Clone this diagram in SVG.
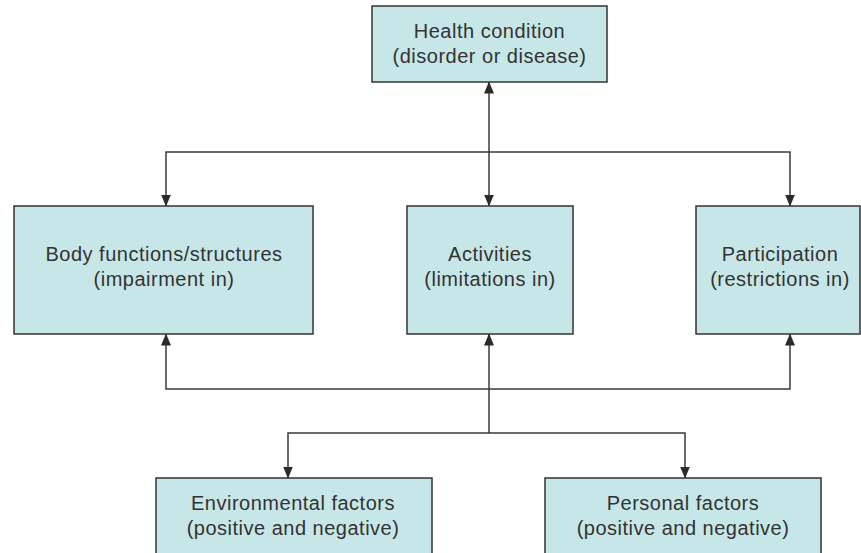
<svg xmlns="http://www.w3.org/2000/svg" width="861" height="553" viewBox="0 0 861 553">
<defs>
<marker id="ah" viewBox="0 0 12 10" refX="11.5" refY="5" markerWidth="12" markerHeight="10" markerUnits="userSpaceOnUse" orient="auto-start-reverse">
<path d="M0,0 L12,5 L0,10 z" fill="#2b2b2b"/>
</marker>
</defs>
<style>
.box{fill:#c7e6e8;stroke:#333;stroke-width:1.5}
.t{font-family:"Liberation Sans",Arial,sans-serif;font-size:20px;fill:#333;text-anchor:middle;letter-spacing:0.5px}
.c{fill:none;stroke:#3a3a3a;stroke-width:1.5}
</style>
<rect width="861" height="553" fill="#fff"/>
<g id="connectors">
<path class="c" d="M489,82 L489,206" marker-start="url(#ah)" marker-end="url(#ah)"/>
<path class="c" d="M166,206 L166,152 L790,152 L790,206" marker-start="url(#ah)" marker-end="url(#ah)"/>
<path class="c" d="M166,334 L166,389 L790,389 L790,334" marker-start="url(#ah)" marker-end="url(#ah)"/>
<path class="c" d="M489,433 L489,334" marker-end="url(#ah)"/>
<path class="c" d="M288,478 L288,433 L685,433 L685,478" marker-start="url(#ah)" marker-end="url(#ah)"/>
</g>
<g id="health">
<rect class="box" x="372" y="6" width="235" height="76"/>
<text class="t" x="489.5" y="38">Health condition</text>
<text class="t" x="489.5" y="63">(disorder or disease)</text>
</g>
<g id="body">
<rect class="box" x="14" y="206" width="299" height="128"/>
<text class="t" x="164" y="261">Body functions/structures</text>
<text class="t" x="164" y="286">(impairment in)</text>
</g>
<g id="activities">
<rect class="box" x="407" y="206" width="166" height="128"/>
<text class="t" x="490" y="261">Activities</text>
<text class="t" x="490" y="286">(limitations in)</text>
</g>
<g id="participation">
<rect class="box" x="696" y="206" width="164" height="128"/>
<text class="t" x="780" y="261">Participation</text>
<text class="t" x="780" y="286">(restrictions in)</text>
</g>
<g id="environmental">
<rect class="box" x="156" y="478" width="276" height="90"/>
<text class="t" x="293" y="510">Environmental factors</text>
<text class="t" x="293" y="535">(positive and negative)</text>
</g>
<g id="personal">
<rect class="box" x="545" y="478" width="276" height="90"/>
<text class="t" x="683" y="510">Personal factors</text>
<text class="t" x="683" y="535">(positive and negative)</text>
</g>
</svg>
